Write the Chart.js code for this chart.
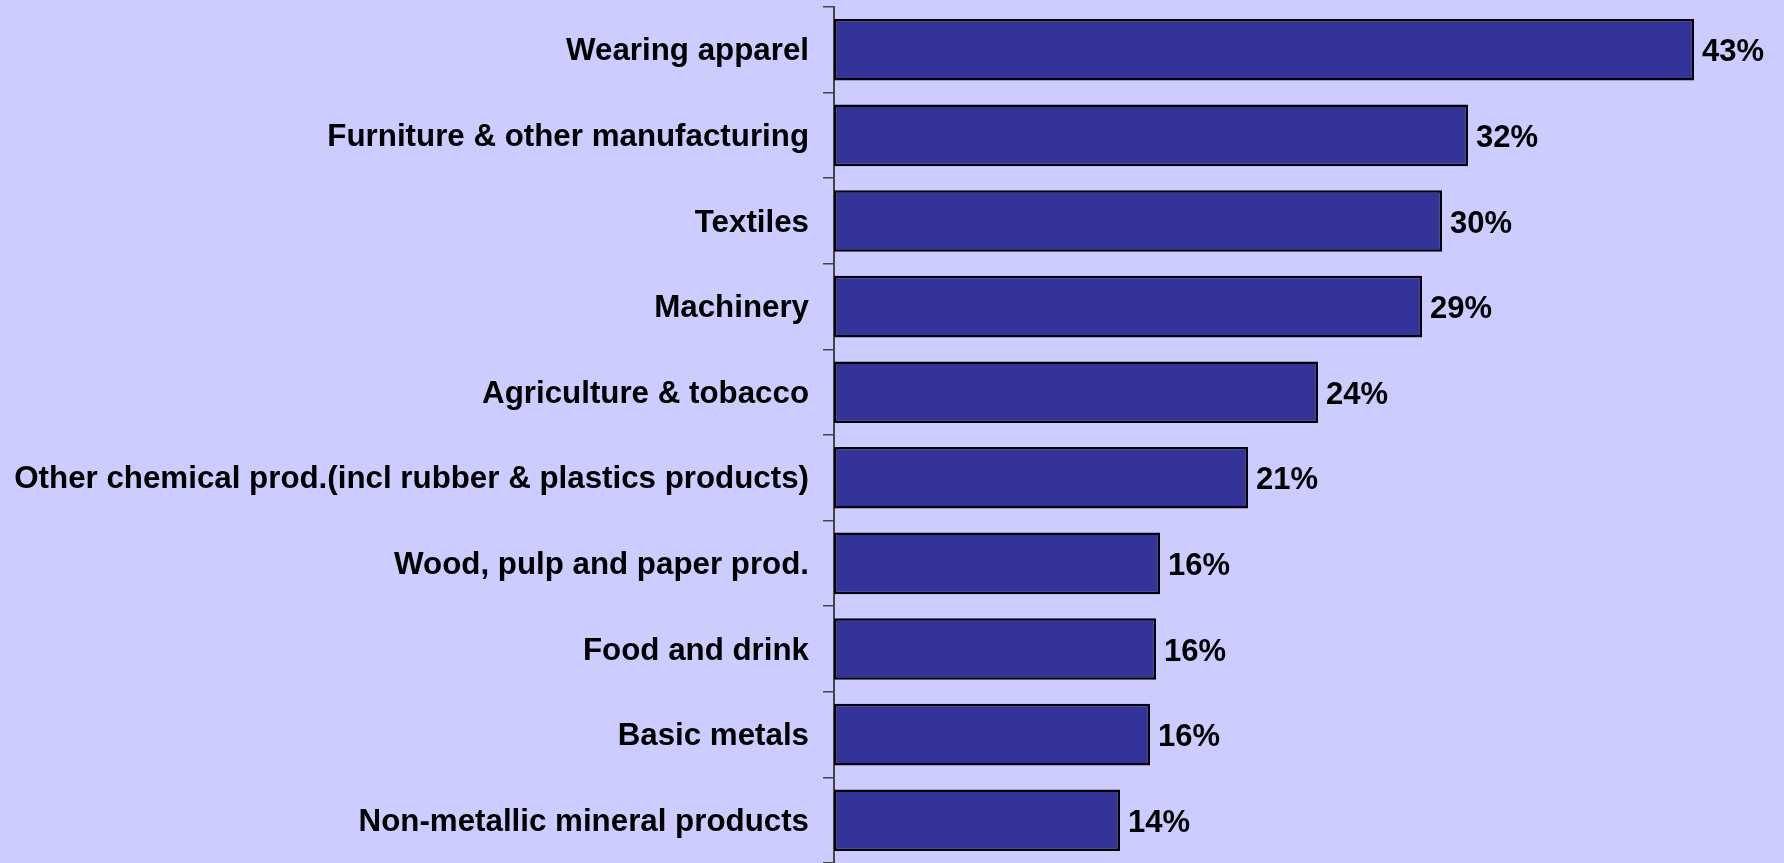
<!DOCTYPE html>
<html>
<head>
<meta charset="utf-8">
<script src="https://cdn.jsdelivr.net/npm/chart.js@4/dist/chart.umd.min.js"></script>
<style>
  html, body { margin: 0; padding: 0; background: #ccccff; }
  #wrap { width: 1784px; height: 863px; position: relative; }
</style>
</head>
<body>
<div id="wrap"><canvas id="myChart"></canvas></div>
<script>
// Data
const sectors = [
  "Wearing apparel",
  "Furniture & other manufacturing",
  "Textiles",
  "Machinery",
  "Agriculture & tobacco",
  "Other chemical prod.(incl rubber & plastics products)",
  "Wood, pulp and paper prod.",
  "Food and drink",
  "Basic metals",
  "Non-metallic mineral products"
];
const shares = [43.0, 31.7, 30.4, 29.4, 24.2, 20.7, 16.3, 16.1, 15.8, 14.3];

const FONT = "'Liberation Sans', Arial, Helvetica, sans-serif";

// draws the "43%" style labels at the end of each bar
const valueLabels = {
  id: 'valueLabels',
  afterDatasetsDraw(chart) {
    const ctx = chart.ctx;
    const meta = chart.getDatasetMeta(0);
    ctx.save();
    ctx.font = "bold 31px " + FONT;
    ctx.fillStyle = '#000';
    ctx.textAlign = 'left';
    ctx.textBaseline = 'middle';
    meta.data.forEach((bar, i) => {
      ctx.fillText(Math.round(shares[i]) + '%', bar.x + 8, bar.y + 3);
    });
    ctx.restore();
  }
};

const ctx = document.getElementById('myChart').getContext('2d');

const data = {
  labels: sectors,
  datasets: [{
    data: shares,
    backgroundColor: '#333399',
    borderColor: '#000000',
    borderWidth: 2.5,
    borderSkipped: false,
    categoryPercentage: 1.0,
    barPercentage: 0.72
  }]
};

const options = {
  indexAxis: 'y',
  responsive: true,
  maintainAspectRatio: false,
  animation: false,
  layout: { padding: { top: 7, right: 10, bottom: 0, left: 0 } },
  plugins: {
    legend: { display: false },
    tooltip: { enabled: false }
  },
  scales: {
    x: {
      display: false,
      min: 0,
      max: 47
    },
    y: {
      afterFit(scale) {
        scale.width = 834;
        // no extra room for the first/last label
        scale.paddingTop = 0;
        scale.paddingBottom = 0;
      },
      border: { display: true, color: '#444444', width: 2 },
      grid: {
        offset: true,
        drawOnChartArea: false,
        drawTicks: true,
        tickLength: 11,
        color: '#444444',
        lineWidth: 1.5
      },
      ticks: {
        color: '#000',
        padding: 14,
        labelOffset: 2,
        font: { family: FONT, size: 31.3, weight: 'bold' }
      }
    }
  }
};

var chart = new Chart(ctx, {
  type: 'bar',
  data: data,
  options: options,
  plugins: [valueLabels]
});
</script>
</body>
</html>
